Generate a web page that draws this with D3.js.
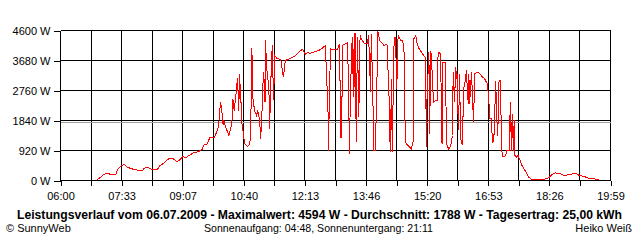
<!DOCTYPE html>
<html>
<head>
<meta charset="utf-8">
<script src="https://cdn.jsdelivr.net/npm/d3@7"></script>
<style>
  body { margin: 0; background: #fff; }
  svg { display: block; font-family: "Liberation Sans", Arial, sans-serif; }
  .axis path { display: none; }
  .axis line { stroke: #000; }
  .axis text { font-size: 11px; fill: #000; }
</style>
</head>
<body>
<div id="chart-area"></div>
<script>
// minutes after midnight, watts
const timeMin = [416,421,426,434,436,444,447,454,458,462,467,472,479,485,488,493,500,508,511,518,523,528,533,538,543,547,551,556,563,571,576,579,584,588,591,595,599,601,604,606,608,609,612,617,620,622,623,625,628,630,632,633,635,637,639,641,645,648,650,652,653,656,659,661,664,665,667,668,670,672,673,674,676,678,679,681,683,685,687,690,696,700,703,711,719,722,725,729,734,736,741,746,754,759,764,768,769,770,772,777,782,786,787,789,790,795,798,801,802,805,807,808,809,810,811,813,815,817,819,823,828,830,833,834,836,838,840,842,844,847,851,853,858,861,863,865,866,869,871,873,875,879,882,884,886,889,893,895,898,899,902,904,907,909,912,914,917,918,919,922,923,925,927,929,932,935,936,940,941,942,943,947,949,952,955,958,959,961,963,964,965,967,969,970,973,975,978,979,982,983,984,987,990,992,996,1000,1003,1007,1011,1013,1015,1017,1019,1021,1024,1025,1027,1029,1031,1033,1035,1039,1041,1045,1046,1048,1049,1051,1052,1053,1056,1058,1061,1064,1067,1071,1074,1080,1090,1100,1105,1110,1115,1123,1128,1138,1146,1151,1158,1163,1168,1174,1181]
const watts = [20,100,190,225,175,175,330,470,480,410,370,340,315,300,380,400,340,345,440,545,645,685,655,575,655,735,695,765,850,890,950,1095,1125,1330,1310,1330,1535,1635,2400,2170,1715,1860,1635,1380,1635,1890,2505,2145,2710,3150,2145,3270,2555,1685,1430,1125,1040,1095,1330,4070,2605,2145,1995,2145,1840,1280,1740,2710,3320,2400,4315,3525,3220,2710,1585,3120,4140,2455,3835,3750,3710,3170,3680,3750,3835,3905,3965,4020,3865,3915,3905,3935,3985,4055,4140,2200,920,2505,4040,4010,4010,4190,1310,1310,4140,4190,4240,820,2555,4395,2555,4515,2860,4515,1175,4415,1940,4445,4345,4210,4190,4445,2710,4500,3065,920,920,2200,4594,4295,4210,4140,4190,2710,870,3120,870,4395,4375,2820,4445,4295,4295,3935,1195,1095,1020,950,1195,4345,4445,4190,4040,3985,3885,3835,3770,1040,2455,3925,1430,3985,3280,2400,2455,2455,3935,3885,1995,1125,3630,3630,1125,965,1040,1380,3320,2420,3465,3120,3270,1535,3270,1330,1075,2810,3120,3375,2350,3270,2350,3320,1790,3270,3320,3270,3190,3120,2965,2555,1890,1890,1175,1225,3065,2145,1380,3065,3065,920,715,765,920,920,2400,920,2045,920,1840,765,715,765,615,460,360,225,100,20,20,50,85,185,235,205,155,185,225,155,130,90,60,50,30]

const yTicks = [0, 920, 1840, 2760, 3680, 4600]
const xLabels = ["06:00","07:33","09:07","10:40","12:13","13:46","15:20","16:53","18:26","19:59"]
const average = 1788
const title = "Leistungsverlauf vom 06.07.2009 - Maximalwert: 4594 W - Durchschnitt: 1788 W - Tagesertrag: 25,00 kWh"
const sunText = "Sonnenaufgang: 04:48, Sonnenuntergang: 21:11"

const PLOT = { LEFT: 60, RIGHT: 610, TOP: 30, BOTTOM: 180 }
const T0 = 360, T1 = 1199

const svg = d3.select("#chart-area").append("svg")
  .attr("width", 640)
  .attr("height", 240)

const g = svg.append("g").attr("transform", "translate(0.5, 0.5)")

// scales
const x = d3.scaleLinear().domain([T0, T1]).range([PLOT.LEFT, PLOT.RIGHT])
const y = d3.scaleLinear().domain([0, 4600]).range([PLOT.BOTTOM, PLOT.TOP])

// 18 grid columns, label on every second
const gridTimes = d3.range(19).map(i => T0 + i * (T1 - T0) / 18)

// grid
g.append("g").selectAll("line").data(gridTimes).enter().append("line")
  .attr("x1", d => Math.round(x(d))).attr("x2", d => Math.round(x(d)))
  .attr("y1", PLOT.TOP).attr("y2", PLOT.BOTTOM)
  .attr("stroke", "#000").attr("shape-rendering", "crispEdges")

g.append("g").selectAll("line").data(yTicks).enter().append("line")
  .attr("x1", PLOT.LEFT).attr("x2", PLOT.RIGHT)
  .attr("y1", d => Math.round(y(d))).attr("y2", d => Math.round(y(d)))
  .attr("stroke", "#000").attr("shape-rendering", "crispEdges")

// average line
g.append("line")
  .attr("x1", PLOT.LEFT).attr("x2", PLOT.RIGHT)
  .attr("y1", Math.round(y(average))).attr("y2", Math.round(y(average)))
  .attr("stroke", "#a0a0a0").attr("shape-rendering", "crispEdges")

// axes
const yAxis = g.append("g")
  .attr("class", "axis")
  .attr("transform", `translate(${PLOT.LEFT}, 0)`)
  .call(d3.axisLeft(y).tickValues(yTicks).tickSize(7).tickPadding(3)
    .tickFormat(d => d + " W"))
yAxis.selectAll("line").attr("shape-rendering", "crispEdges")

const xAxis = g.append("g")
  .attr("class", "axis")
  .attr("transform", `translate(0, ${PLOT.BOTTOM})`)
  .call(d3.axisBottom(x).tickValues(gridTimes).tickSize(5).tickPadding(7)
    .tickFormat((d, i) => i % 2 === 0 ? xLabels[i / 2] : ""))
xAxis.selectAll("line").attr("shape-rendering", "crispEdges")

// power line
const line = d3.line()
  .x((d, i) => x(timeMin[i]))
  .y(d => y(d))

g.append("path")
  .attr("fill", "none")
  .attr("stroke", "#ff0000")
  .attr("stroke-width", 1)
  .attr("shape-rendering", "crispEdges")
  .attr("d", line(watts))

// footer texts
svg.append("text")
  .attr("x", 17).attr("y", 219)
  .attr("font-size", "12px").attr("font-weight", "bold")
  .attr("textLength", 605).attr("lengthAdjust", "spacingAndGlyphs")
  .text(title)

svg.append("text")
  .attr("x", 6).attr("y", 232)
  .attr("font-size", "11px")
  .text("\u00A9 SunnyWeb")

svg.append("text")
  .attr("x", 204).attr("y", 232)
  .attr("font-size", "11px")
  .attr("textLength", 229).attr("lengthAdjust", "spacingAndGlyphs")
  .text(sunText)

svg.append("text")
  .attr("x", 632).attr("y", 232)
  .attr("font-size", "11px").attr("text-anchor", "end")
  .text("Heiko Weiß")
</script>
</body>
</html>
